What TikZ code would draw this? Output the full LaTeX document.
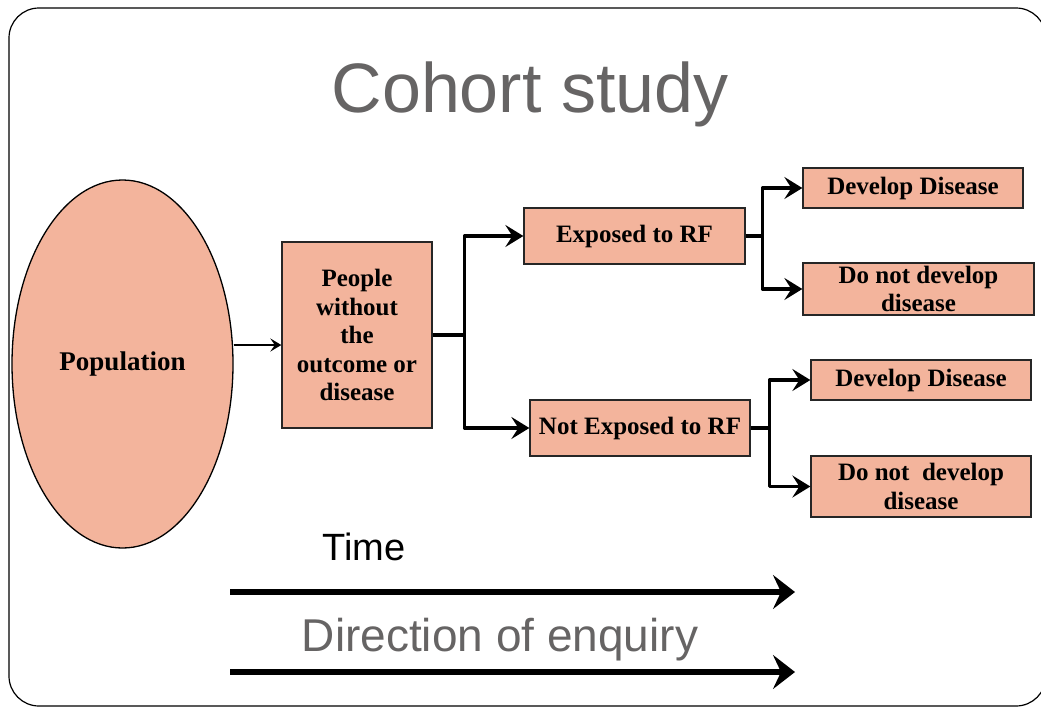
\documentclass[tikz,border=0pt]{standalone}
\usepackage{fontspec}
\setmainfont{Liberation Serif}
\setsansfont{Liberation Sans}
\usetikzlibrary{arrows.meta,shapes.geometric}
\definecolor{salmon}{HTML}{F3B49C}
\definecolor{titlegray}{HTML}{666464}
\begin{document}
\begin{tikzpicture}[x=1pt,y=-1pt,
  box/.style={draw=black!85, line width=1.3pt, fill=salmon, inner sep=0pt,
    font=\bfseries\fontsize{25}{28.5}\selectfont, align=center},
  branch/.style={line width=3.6pt, line join=round,
    -{Stealth[length=18pt,width=22pt,inset=7pt]}},
  timearrow/.style={line width=6pt,
    -{Stealth[length=22pt,width=34pt,inset=8pt]}}]
\useasboundingbox (0,0) rectangle (1041,707);
% frame
\draw[line width=1.2pt, rounded corners=30pt] (9,8) rectangle (1046,706);
% title
\node[font=\sffamily\fontsize{70}{70}\selectfont, text=titlegray, anchor=base, inner sep=0pt]
  (title) at (530,112) {Cohort study};
% population
\node[ellipse, draw=black, line width=1.3pt, fill=salmon, minimum width=221pt,
  minimum height=368pt, inner sep=0pt, font=\bfseries\fontsize{27}{28}\selectfont]
  (pop) at (122.5,364) {Population};
% boxes
\node[box, minimum width=150pt, minimum height=186pt] (people) at (357,335)
  {People\\without\\the\\outcome or\\disease};
\node[box, minimum width=221pt, minimum height=56pt] (exp) at (634.5,236) {Exposed to RF};
\node[box, minimum width=220pt, minimum height=56pt] (nexp) at (640,428) {Not Exposed to RF};
\node[box, minimum width=220pt, minimum height=40pt] (dd1) at (913,188) {Develop Disease};
\node[box, minimum width=231pt, minimum height=52pt] (dn1) at (918.5,289) {Do not develop\\disease};
\node[box, minimum width=220pt, minimum height=40pt] (dd2) at (921,380) {Develop Disease};
\node[box, minimum width=220pt, minimum height=61pt] (dn2) at (921,486.5) {Do not\ \ develop\\disease};
% connectors
\draw[line width=2.4pt, -{Stealth[length=11pt,width=13pt,inset=4.5pt]}] (pop.east |- 0,345) -- (people.west |- 0,345);
\draw[branch] (people.east) -- ++(32,0) |- (exp.west);
\draw[branch] (people.east) -- ++(32,0) |- (nexp.west);
\draw[branch] (exp.east) -- ++(17,0) |- (dd1.west);
\draw[branch] (exp.east) -- ++(17,0) |- (dn1.west);
\draw[branch] (nexp.east) -- ++(19,0) |- (dd2.west);
\draw[branch] (nexp.east) -- ++(19,0) |- (dn2.west);
% time arrows
\node[font=\sffamily\fontsize{38}{38}\selectfont, anchor=base, inner sep=0pt] (time) at (364,560) {Time};
\coordinate (t1s) at (230,592);
\coordinate (t1e) at (795,592);
\draw[timearrow] (t1s) -- (t1e);
\node[font=\sffamily\fontsize{46}{46}\selectfont, text=titlegray, anchor=base, inner sep=0pt]
  (dir) at (500,651) {Direction of enquiry};
\coordinate (t2s) at (230,672);
\coordinate (t2e) at (795,672);
\draw[timearrow] (t2s) -- (t2e);
\end{tikzpicture}
\end{document}
